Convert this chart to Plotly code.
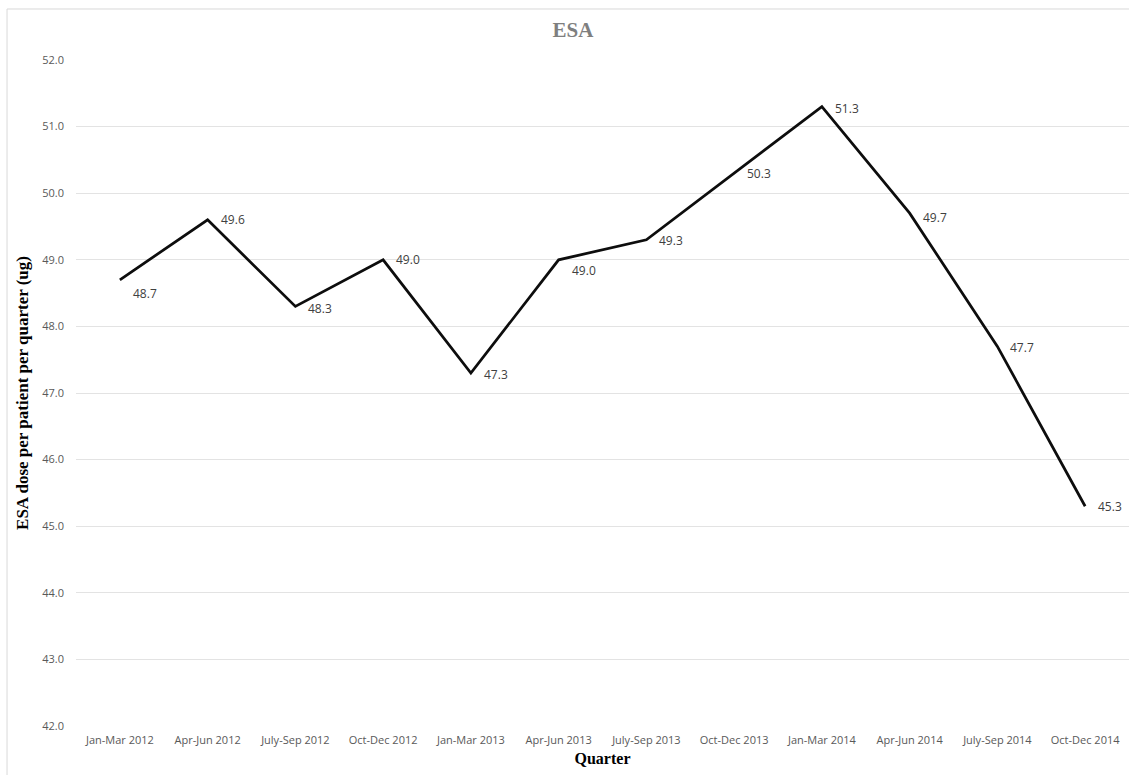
import plotly.graph_objects as go

# Quarterly ESA dose per patient (ug)
quarters = [
    "Jan-Mar 2012", "Apr-Jun 2012", "July-Sep 2012", "Oct-Dec 2012",
    "Jan-Mar 2013", "Apr-Jun 2013", "July-Sep 2013", "Oct-Dec 2013",
    "Jan-Mar 2014", "Apr-Jun 2014", "July-Sep 2014", "Oct-Dec 2014",
]
esa_dose = [48.7, 49.6, 48.3, 49.0, 47.3, 49.0, 49.3, 50.3, 51.3, 49.7, 47.7, 45.3]
y_ticks = [42.0, 43.0, 44.0, 45.0, 46.0, 47.0, 48.0, 49.0, 50.0, 51.0, 52.0]

# vertical nudge (px) for each value label, placed to the right of its point
label_dy = [-14, 0, -2, 0, -1, -11, -1, 0, -2, -4, -1, 0]

fig = go.Figure()
fig.add_trace(go.Scatter(
    x=quarters,
    y=esa_dose,
    mode="lines",
    line=dict(color="#0d0d0d", width=2.75),
    hoverinfo="skip",
    showlegend=False,
))

for q, v, dy in zip(quarters, esa_dose, label_dy):
    fig.add_annotation(
        x=q, y=v, text=f"{v:.1f}", showarrow=False,
        xanchor="left", yanchor="middle", xshift=11, yshift=dy,
        font=dict(family="Open Sans", size=12, color="#404040"),
    )

# outer chart frame
fig.add_shape(
    type="rect", xref="paper", yref="paper",
    x0=-0.0655, x1=1.2, y0=-0.3, y1=1.0766,
    line=dict(color="#d9d9d9", width=1), fillcolor="rgba(0,0,0,0)",
    layer="below",
)

fig.update_layout(
    width=1129, height=775,
    margin=dict(l=76, r=0, t=60, b=49),
    paper_bgcolor="white", plot_bgcolor="white",
    title=dict(
        text="<b>ESA</b>", x=573 / 1129, xanchor="center",
        y=1 - 30 / 775, yanchor="middle", yref="container",
        font=dict(family="Liberation Serif", size=21, color="#7f7f7f"),
    ),
    xaxis=dict(
        type="category",
        range=[-0.5, 11.5],
        showgrid=False, zeroline=False, showline=False,
        ticks="", ticklabelstandoff=6,
        tickfont=dict(family="Open Sans", size=11, color="#595959"),
        title=dict(
            text="<b>Quarter</b>", standoff=6,
            font=dict(family="Liberation Serif", size=16, color="#000000"),
        ),
    ),
    yaxis=dict(
        range=[42, 52],
        tickvals=y_ticks,
        tickformat=".1f",
        showgrid=True, gridcolor="#e3e3e3", gridwidth=1,
        zeroline=False, showline=False,
        ticks="", ticklabelstandoff=11,
        tickfont=dict(family="Open Sans", size=11, color="#595959"),
        title=dict(
            text="<b>ESA dose per patient per quarter (ug)</b>", standoff=9,
            font=dict(family="Liberation Serif", size=17, color="#000000"),
        ),
    ),
)

fig.write_html("out.html")
